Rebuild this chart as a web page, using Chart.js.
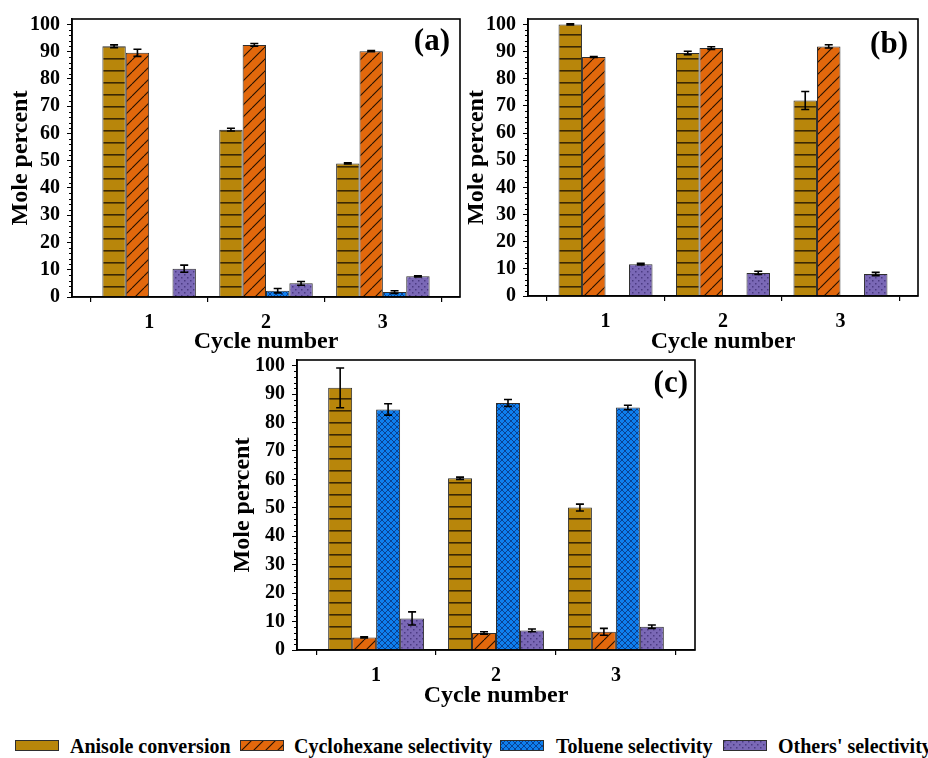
<!DOCTYPE html>
<html>
<head>
<meta charset="utf-8">
<script src="https://cdn.jsdelivr.net/npm/chart.js@4.4.0/dist/chart.umd.min.js"></script>
<style>
  body { margin: 0; width: 928px; height: 758px; background: #fff; position: relative; overflow: hidden; font-family: "Liberation Serif", "Times New Roman", serif; }
  canvas.panel { position: absolute; }
  .sw { position: absolute; top: 740px; }
  .lt { position: absolute; top: 735px; font-weight: bold; font-size: 20px; line-height: 22px; color: #000; white-space: nowrap; }
</style>
</head>
<body>
<canvas id="chartA" class="panel" width="470" height="356" style="left:0;top:0"></canvas>
<canvas id="chartB" class="panel" width="468" height="356" style="left:460px;top:0"></canvas>
<canvas id="chartC" class="panel" width="480" height="370" style="left:220px;top:340px"></canvas>

<canvas class="sw" id="sw0" width="44" height="11" style="left:15px"></canvas>
<span class="lt" style="left:70px">Anisole conversion</span>
<canvas class="sw" id="sw1" width="44" height="11" style="left:240px"></canvas>
<span class="lt" style="left:294px">Cyclohexane selectivity</span>
<canvas class="sw" id="sw2" width="44" height="11" style="left:500px"></canvas>
<span class="lt" style="left:556px">Toluene selectivity</span>
<canvas class="sw" id="sw3" width="44" height="11" style="left:723px"></canvas>
<span class="lt" style="left:778px">Others' selectivity</span>

<script>
// categories and tick labels
const cycles = [1, 2, 3];
const yTicks = [0, 10, 20, 30, 40, 50, 60, 70, 80, 90, 100];
const seriesNames = ['Anisole conversion', 'Cyclohexane selectivity', 'Toluene selectivity', "Others' selectivity"];

// panel (a)
const aAnisole = [92.0, 61.4, 49.0];
const aAnisoleErr = [0.5, 0.5, 0.2];
const aCyclohexane = [89.6, 92.5, 90.2];
const aCyclohexaneErr = [1.3, 0.5, 0.2];
const aToluene = [null, 2.3, 1.8];
const aTolueneErr = [0, 0.8, 0.5];
const aOthers = [10.4, 5.0, 7.6];
const aOthersErr = [1.3, 0.7, 0.2];

// panel (b)
const bAnisole = [100.0, 89.5, 72.0];
const bAnisoleErr = [0.2, 0.6, 3.3];
const bCyclohexane = [88.0, 91.3, 91.9];
const bCyclohexaneErr = [0.2, 0.5, 0.6];
const bToluene = [null, null, null];
const bTolueneErr = [0, 0, 0];
const bOthers = [11.7, 8.5, 8.1];
const bOthersErr = [0.3, 0.6, 0.6];

// panel (c)
const cAnisole = [92.2, 60.4, 50.1];
const cAnisoleErr = [7.0, 0.4, 1.2];
const cCyclohexane = [4.4, 6.0, 6.4];
const cCyclohexaneErr = [0.2, 0.4, 1.2];
const cToluene = [84.6, 86.9, 85.3];
const cTolueneErr = [2.0, 1.2, 0.8];
const cOthers = [11.1, 6.9, 8.2];
const cOthersErr = [2.3, 0.5, 0.6];

const FONT = '"Liberation Serif", "Times New Roman", serif';

// pattern tiles for the hatched fills
function makeTile(kind) {
    const c = document.createElement('canvas');
    let g;
    if (kind === 0) {
        c.width = 8; c.height = 12;
        g = c.getContext('2d');
        g.fillStyle = '#B8860B';
        g.fillRect(0, 0, 8, 12);
        g.fillStyle = '#3a2804';
        g.fillRect(0, 10, 8, 1.6);
    } else if (kind === 1) {
        const s = 12;
        c.width = s; c.height = s;
        g = c.getContext('2d');
        g.fillStyle = '#E2680C';
        g.fillRect(0, 0, s, s);
        g.strokeStyle = '#231000';
        g.lineWidth = 1.1;
        for (let k = -1; k <= 1; k++) {
            g.beginPath();
            g.moveTo(k * s, s);
            g.lineTo(k * s + s, 0);
            g.stroke();
        }
    } else if (kind === 2) {
        const s = 6;
        c.width = s; c.height = s;
        g = c.getContext('2d');
        g.fillStyle = '#0E7FEE';
        g.fillRect(0, 0, s, s);
        g.strokeStyle = '#0a3a86';
        g.lineWidth = 0.9;
        for (let k = -1; k <= 1; k++) {
            g.beginPath(); g.moveTo(k * s, s); g.lineTo(k * s + s, 0); g.stroke();
            g.beginPath(); g.moveTo(k * s, 0); g.lineTo(k * s + s, s); g.stroke();
        }
    } else {
        c.width = 6; c.height = 6;
        g = c.getContext('2d');
        g.fillStyle = '#7A68B6';
        g.fillRect(0, 0, 6, 6);
        g.fillStyle = '#4b3b82';
        g.fillRect(1, 1, 1.5, 1.5);
        g.fillRect(4, 4, 1.5, 1.5);
    }
    return c;
}

const tiles = [0, 1, 2, 3].map(makeTile);

function patternFor(ctx, i) {
    return ctx.createPattern(tiles[i], 'repeat');
}

// error bars drawn from the library's own bar positions and y scale
const errorBars = {
    id: 'errorBars',
    afterDatasetsDraw(chart) {
        const ctx = chart.ctx;
        const yScale = chart.scales.y;
        ctx.save();
        ctx.strokeStyle = '#000';
        ctx.lineWidth = 1.6;
        chart.data.datasets.forEach((ds, di) => {
            const meta = chart.getDatasetMeta(di);
            ds.data.forEach((pt, i) => {
                const err = ds.errors[i];
                if (pt.y == null || !err) return;
                const x = meta.data[i].x;
                const top = yScale.getPixelForValue(pt.y + err);
                const bot = yScale.getPixelForValue(pt.y - err);
                ctx.beginPath();
                ctx.moveTo(x, top); ctx.lineTo(x, bot);
                ctx.moveTo(x - 4, top); ctx.lineTo(x + 4, top);
                ctx.moveTo(x - 4, bot); ctx.lineTo(x + 4, bot);
                ctx.stroke();
            });
        });
        ctx.restore();
    }
};

// plot frame, minor ticks and the panel letter
const frame = {
    id: 'frame',
    afterDraw(chart, args, opts) {
        const ctx = chart.ctx;
        const a = chart.chartArea;
        const yScale = chart.scales.y;
        ctx.save();
        ctx.strokeStyle = '#000';
        ctx.lineWidth = 1;
        for (let v = 2; v < 102; v += 2) {
            if (v % 10 === 0) continue;
            const y = Math.round(yScale.getPixelForValue(v)) + 0.5;
            ctx.beginPath();
            ctx.moveTo(a.left - 3, y);
            ctx.lineTo(a.left, y);
            ctx.stroke();
        }
        ctx.lineWidth = 1.6;
        ctx.strokeRect(a.left, a.top, a.right - a.left, a.bottom - a.top);
        ctx.fillStyle = '#000';
        ctx.font = 'bold 31px ' + FONT;
        ctx.textAlign = 'right';
        ctx.textBaseline = 'middle';
        ctx.fillText(opts.letter, a.right - opts.inset, a.top + opts.dy);
        ctx.restore();
    }
};

function buildDatasets(ctx, values, errors) {
    return values.map((vals, i) => ({
        label: seriesNames[i],
        data: cycles.map((c, j) => ({ x: c, y: vals[j] })),
        errors: errors[i],
        backgroundColor: patternFor(ctx, i),
        borderColor: '#2e2e2e',
        borderWidth: 1
    }));
}

function makePanel(id, values, errors, box) {
    const ctx = document.getElementById(id).getContext('2d');
    return new Chart(ctx, {
        type: 'bar',
        data: { datasets: buildDatasets(ctx, values, errors) },
        options: {
            responsive: false,
            animation: false,
            layout: { padding: { top: box.top, right: box.right, left: 0, bottom: 0 } },
            datasets: { bar: { categoryPercentage: 0.8, barPercentage: 1.0 } },
            scales: {
                x: {
                    type: 'linear',
                    offset: false,
                    min: 0.34,
                    max: 3.66,
                    afterBuildTicks: s => { s.ticks = cycles.map(v => ({ value: v })); },
                    afterFit: s => { s.height = box.xh; },
                    grid: { drawOnChartArea: false, drawTicks: true, tickLength: 5, color: '#000', lineWidth: 1.2 },
                    border: { display: true, color: '#000', width: 1.6 },
                    ticks: { color: '#000', padding: 9, font: { family: FONT, size: 20, weight: 'bold' }, callback: v => String(v) },
                    title: { display: true, text: 'Cycle number', color: '#000', padding: { top: 0, bottom: 0 }, font: { family: FONT, size: 24, weight: 'bold' } }
                },
                y: {
                    min: 0,
                    max: 102,
                    afterBuildTicks: s => { s.ticks = yTicks.map(v => ({ value: v })); },
                    afterFit: s => { s.width = box.yw; },
                    grid: { drawOnChartArea: false, drawTicks: true, tickLength: 5, color: '#000', lineWidth: 1 },
                    border: { display: true, color: '#000', width: 1.6 },
                    ticks: { color: '#000', padding: 7, font: { family: FONT, size: 20, weight: 'bold' } },
                    title: { display: true, text: 'Mole percent', color: '#000', padding: { top: box.tp, bottom: 0 }, font: { family: FONT, size: 24, weight: 'bold' } }
                }
            },
            plugins: {
                legend: { display: false },
                tooltip: { enabled: false },
                frame: { letter: box.letter, inset: box.inset, dy: box.dy }
            }
        },
        plugins: [errorBars, frame]
    });
}

makePanel('chartA',
    [aAnisole, aCyclohexane, aToluene, aOthers],
    [aAnisoleErr, aCyclohexaneErr, aTolueneErr, aOthersErr],
    { top: 18, right: 10, yw: 72, xh: 59, tp: 6, letter: '(a)', inset: 10, dy: 23 });

makePanel('chartB',
    [bAnisole, bCyclohexane, bToluene, bOthers],
    [bAnisoleErr, bCyclohexaneErr, bTolueneErr, bOthersErr],
    { top: 15, right: 10, yw: 68, xh: 60, tp: 2, letter: '(b)', inset: 10, dy: 26 });

makePanel('chartC',
    [cAnisole, cCyclohexane, cToluene, cOthers],
    [cAnisoleErr, cCyclohexaneErr, cTolueneErr, cOthersErr],
    { top: 20, right: 5, yw: 77, xh: 60, tp: 8, letter: '(c)', inset: 7, dy: 24 });

// legend swatches
[0, 1, 2, 3].forEach(i => {
    const c = document.getElementById('sw' + i);
    const g = c.getContext('2d');
    g.fillStyle = g.createPattern(tiles[i], 'repeat');
    g.fillRect(0, 0, c.width, c.height);
    g.strokeStyle = '#2e2e2e';
    g.lineWidth = 1;
    g.strokeRect(0.5, 0.5, c.width - 1, c.height - 1);
});
</script>
</body>
</html>
